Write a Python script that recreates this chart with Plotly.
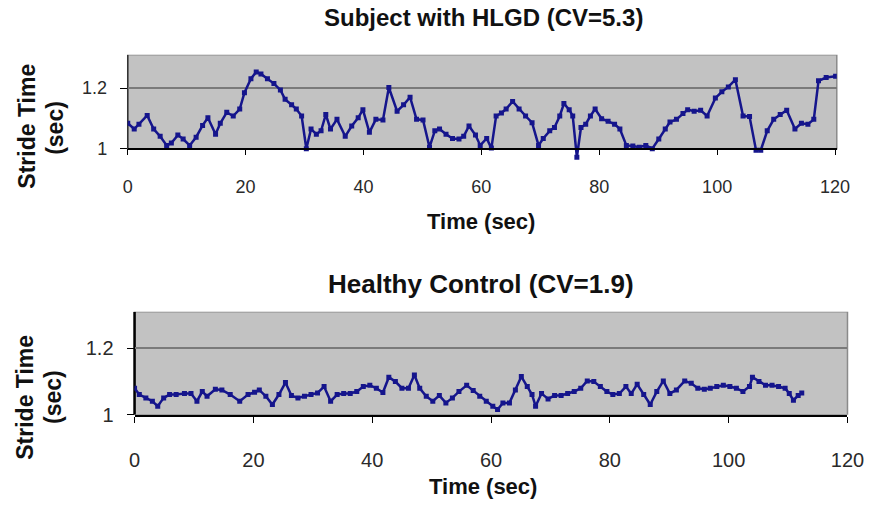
import plotly.graph_objects as go

# Stride time series, subject with HLGD
hlgd_time = [0.0, 1.1, 1.9, 3.3, 4.4, 5.5, 6.6, 7.4, 8.5, 9.4, 10.5, 11.6, 12.7, 13.6, 14.9,
             15.7, 16.8, 17.9, 19.0, 19.8, 20.9, 21.8, 22.6, 23.7, 24.8, 25.9, 26.7, 27.8,
             28.6, 29.5, 30.3, 31.1, 32.0, 32.8, 33.6, 34.4, 35.5, 36.9, 38.0, 39.1, 39.9,
             41.0, 42.1, 43.3, 44.3, 45.7, 46.8, 47.9, 49.0, 50.1, 51.2, 52.1, 52.9, 54.0,
             55.1, 56.2, 57.0, 57.9, 59.0, 59.8, 60.9, 61.7, 62.5, 63.4, 64.2, 65.3, 66.4,
             67.5, 68.6, 69.7, 70.5, 71.6, 72.4, 73.3, 74.0, 74.9, 75.5, 76.2, 76.9, 77.7,
             78.5, 79.3, 80.4, 81.5, 82.6, 83.5, 84.6, 85.7, 86.8, 87.9, 89.0, 90.1, 91.2,
             92.0, 93.1, 94.2, 95.0, 96.1, 97.2, 98.3, 99.7, 100.8, 101.9, 103.1, 104.4,
             105.5, 106.6, 107.4, 108.5, 109.6, 110.7, 111.8, 113.2, 114.3, 115.4, 116.4,
             117.2, 118.5, 120.1]
hlgd_stride = [1.084, 1.065, 1.081, 1.110, 1.065, 1.041, 1.011, 1.019, 1.045, 1.032, 1.011,
               1.038, 1.077, 1.102, 1.048, 1.084, 1.120, 1.108, 1.131, 1.185, 1.231, 1.253,
               1.247, 1.231, 1.215, 1.194, 1.163, 1.145, 1.131, 1.108, 1.000, 1.065, 1.048,
               1.059, 1.113, 1.065, 1.097, 1.041, 1.075, 1.102, 1.129, 1.054, 1.097, 1.095,
               1.202, 1.124, 1.145, 1.170, 1.097, 1.095, 1.005, 1.059, 1.065, 1.048, 1.034,
               1.032, 1.041, 1.075, 1.045, 1.011, 1.034, 1.002, 1.108, 1.118, 1.131, 1.156,
               1.131, 1.108, 1.086, 1.011, 1.034, 1.059, 1.070, 1.108, 1.149, 1.129, 1.108,
               0.972, 1.070, 1.081, 1.108, 1.131, 1.099, 1.091, 1.081, 1.065, 1.011, 1.009,
               1.005, 1.011, 1.000, 1.032, 1.065, 1.088, 1.097, 1.116, 1.129, 1.124, 1.127,
               1.108, 1.167, 1.188, 1.204, 1.228, 1.108, 1.106, 0.995, 0.995, 1.059, 1.097,
               1.113, 1.127, 1.065, 1.084, 1.081, 1.097, 1.224, 1.235, 1.239]

# Stride time series, healthy control
ctrl_time = [0.0, 0.8, 1.9, 3.0, 3.9, 4.9, 5.9, 7.0, 8.4, 9.5, 10.5, 11.4, 12.2, 13.6, 14.7,
             16.1, 17.7, 19.1, 20.2, 21.0, 22.1, 23.2, 24.3, 25.4, 26.4, 27.5, 28.6, 29.7,
             30.8, 31.9, 33.0, 34.1, 35.2, 36.3, 37.4, 38.5, 39.6, 40.7, 41.8, 42.8, 43.9,
             45.0, 46.1, 47.1, 48.0, 49.1, 50.2, 51.3, 52.4, 53.5, 54.6, 55.9, 57.0, 58.1,
             59.2, 60.3, 61.1, 62.0, 63.1, 64.1, 65.1, 66.1, 66.9, 67.5, 68.5, 69.6, 70.7,
             71.8, 72.9, 74.0, 75.1, 76.2, 77.3, 78.4, 79.5, 80.5, 81.6, 82.7, 83.6, 84.6,
             85.7, 86.8, 87.9, 89.0, 90.1, 91.2, 92.6, 93.7, 94.8, 95.9, 96.9, 98.0, 99.1,
             100.2, 101.3, 102.4, 103.5, 104.0, 105.1, 106.2, 107.3, 108.4, 109.5, 110.2,
             110.9, 111.7, 112.3]
ctrl_stride = [1.080, 1.061, 1.051, 1.041, 1.026, 1.051, 1.061, 1.061, 1.064, 1.064, 1.041,
               1.070, 1.056, 1.077, 1.075, 1.061, 1.041, 1.061, 1.068, 1.075, 1.056, 1.031,
               1.061, 1.097, 1.058, 1.051, 1.056, 1.061, 1.066, 1.085, 1.041, 1.061, 1.064,
               1.064, 1.070, 1.085, 1.089, 1.080, 1.067, 1.113, 1.100, 1.080, 1.080, 1.120,
               1.080, 1.056, 1.041, 1.058, 1.036, 1.051, 1.070, 1.089, 1.073, 1.056, 1.041,
               1.026, 1.016, 1.036, 1.036, 1.075, 1.115, 1.085, 1.061, 1.026, 1.064, 1.048,
               1.058, 1.058, 1.064, 1.070, 1.080, 1.102, 1.100, 1.085, 1.070, 1.061, 1.064,
               1.085, 1.064, 1.092, 1.061, 1.031, 1.070, 1.102, 1.064, 1.075, 1.102, 1.095,
               1.080, 1.077, 1.080, 1.085, 1.089, 1.085, 1.080, 1.070, 1.085, 1.113, 1.100,
               1.089, 1.089, 1.085, 1.080, 1.064, 1.044, 1.058, 1.066]

x_ticks = [0, 20, 40, 60, 80, 100, 120]
y_ticks = [1, 1.2]
y_tick_text = ["1", "1.2"]

W, H = 883, 510
FONT = "Liberation Sans, Arial, sans-serif"
PLOT_GRAY = "#c2c2c2"
LINE_NAVY = "#15158c"


def fx(px):
    return px / W


def fy(py):
    return 1 - py / H


fig = go.Figure()

line_style = dict(color=LINE_NAVY, width=2.5)
marker_style = dict(color=LINE_NAVY, size=5, symbol="square")

fig.add_trace(go.Scatter(x=hlgd_time, y=hlgd_stride, mode="lines+markers",
                         line=line_style, marker=marker_style,
                         xaxis="x", yaxis="y", showlegend=False))
fig.add_trace(go.Scatter(x=ctrl_time, y=ctrl_stride, mode="lines+markers",
                         line=line_style, marker=marker_style,
                         xaxis="x2", yaxis="y2", showlegend=False))

tick_font_top = dict(family=FONT, size=18, color="#2a2a2a")
tick_font_bottom = dict(family=FONT, size=20, color="#2a2a2a")

fig.update_layout(
    width=W, height=H,
    margin=dict(l=0, r=0, t=0, b=0),
    paper_bgcolor="white",
    plot_bgcolor="white",
    xaxis=dict(domain=[fx(125), fx(853)], range=[0, 120.3],
               anchor="free", position=fy(152),
               tickvals=x_ticks, ticks="outside", ticklen=6, tickcolor="#000",
               ticklabelstandoff=16,
               showline=True, linecolor="#000", linewidth=1.5,
               showgrid=False, zeroline=False, tickfont=tick_font_top),
    yaxis=dict(domain=[fy(164.4), fy(56)], range=[0.96, 1.31],
               anchor="x", tickvals=y_ticks, ticktext=y_tick_text,
               ticks="outside", ticklen=7, tickcolor="#000", ticklabelstandoff=9,
               showline=False, showgrid=True, gridcolor="#7a7a7a", gridwidth=2,
               zeroline=False, tickfont=tick_font_top),
    xaxis2=dict(domain=[fx(132), fx(864)], range=[0, 120],
                anchor="y2", tickvals=x_ticks, ticks="outside", ticklen=6,
                tickcolor="#000", ticklabelstandoff=20,
                showline=True, linecolor="#000", linewidth=1.5,
                showgrid=False, zeroline=False, tickfont=tick_font_bottom),
    yaxis2=dict(domain=[fy(424), fy(318.6)], range=[1, 1.31],
                anchor="x2", tickvals=y_ticks, ticktext=y_tick_text,
                ticks="outside", ticklen=7, tickcolor="#000", ticklabelstandoff=9,
                showline=False, showgrid=True, gridcolor="#7a7a7a", gridwidth=2,
                zeroline=False, tickfont=tick_font_bottom),
)

# Gray plot areas with their borders, and the left axis lines
fig.add_shape(type="rect", xref="x domain", yref="y", x0=0, x1=1, y0=1, y1=1.31,
              fillcolor=PLOT_GRAY, line=dict(color="#8a8a8a", width=1.5), layer="below")
fig.add_shape(type="line", xref="x domain", yref="y", x0=0, x1=0, y0=1, y1=1.31,
              line=dict(color="#333", width=1.5), layer="below")
fig.add_shape(type="rect", xref="x2 domain", yref="y2", x0=0, x1=1, y0=1, y1=1.31,
              fillcolor=PLOT_GRAY, line=dict(color="#8a8a8a", width=1.5), layer="below")
fig.add_shape(type="line", xref="x2 domain", yref="y2", x0=0, x1=0, y0=1, y1=1.31,
              line=dict(color="#000", width=2.5), layer="below")

top_title_font = dict(family=FONT, size=24, color="#111")
bottom_title_font = dict(family=FONT, size=26, color="#111")
axis_title_font = dict(family=FONT, size=22, color="#111")
y_title_font = dict(family=FONT, size=23, color="#111")

annotations = [
    dict(text="<b>Subject with HLGD (CV=5.3)</b>", x=fx(490), y=fy(18), font=top_title_font),
    dict(text="<b>Time (sec)</b>", x=fx(488), y=fy(226), font=axis_title_font),
    dict(text="<b>Stride Time</b>", x=fx(22), y=fy(129), textangle=-90, font=y_title_font),
    dict(text="<b>(sec)</b>", x=fx(51), y=fy(131), textangle=-90, font=y_title_font),
    dict(text="<b>Healthy Control (CV=1.9)</b>", x=fx(488), y=fy(290), font=bottom_title_font),
    dict(text="<b>Time (sec)</b>", x=fx(490), y=fy(497), font=axis_title_font),
    dict(text="<b>Stride Time</b>", x=fx(20), y=fy(406), textangle=-90, font=y_title_font),
    dict(text="<b>(sec)</b>", x=fx(49), y=fy(406), textangle=-90, font=y_title_font),
]
for a in annotations:
    fig.add_annotation(xref="paper", yref="paper", showarrow=False,
                       xanchor="center", yanchor="middle", **a)

fig.write_html("out.html")
